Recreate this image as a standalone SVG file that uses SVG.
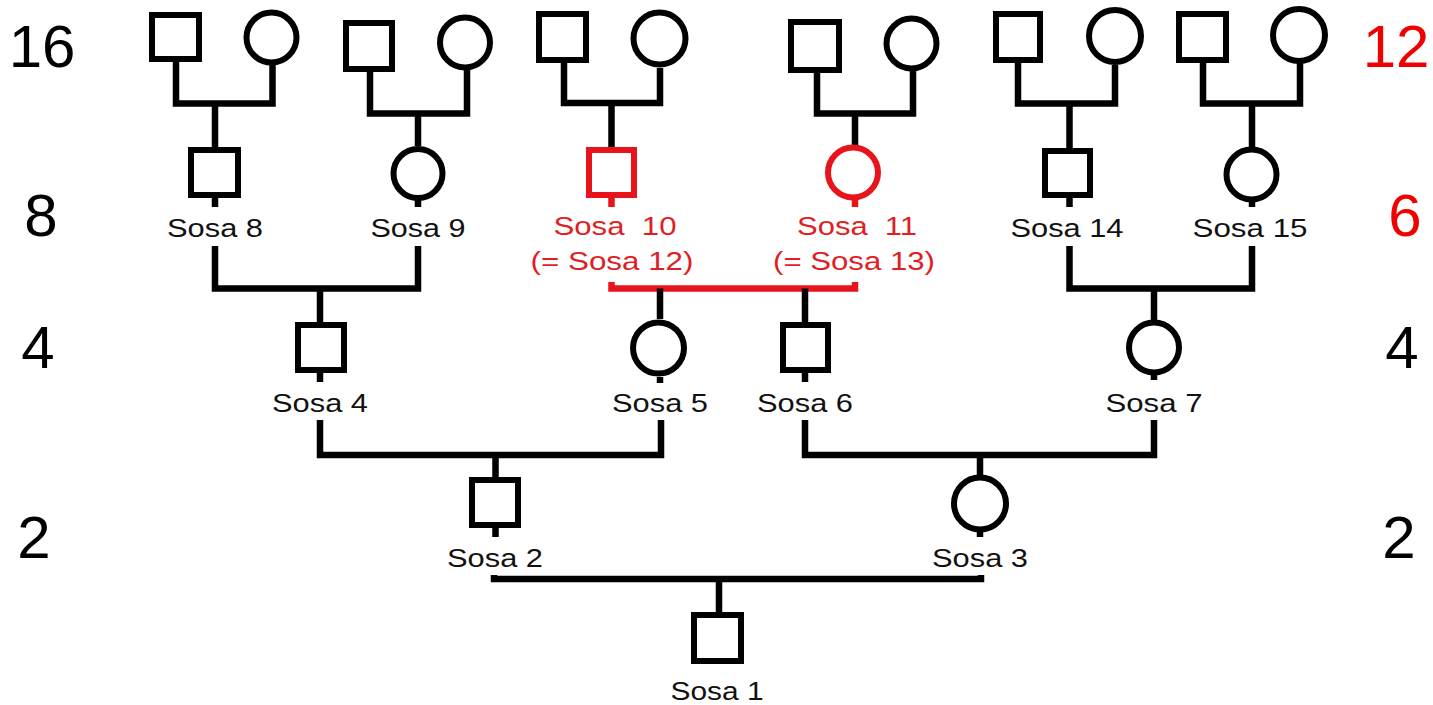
<svg xmlns="http://www.w3.org/2000/svg" width="1433" height="705" viewBox="0 0 1433 705">
<style>
.m{fill:none;stroke:#000;stroke-width:6}
.f{fill:none;stroke:#000;stroke-width:6}
.r{stroke:#e8141c}
.ln{fill:none;stroke:#000;stroke-width:6.5;stroke-linejoin:miter}
.lr{fill:none;stroke:#e8141c;stroke-width:6.5}
.t{font-family:"Liberation Sans",Arial,sans-serif;font-size:26px;fill:#111;text-anchor:middle}
.tr{fill:#e01e24}
.g{font-family:"Liberation Sans",Arial,sans-serif;font-size:60px;fill:#000;text-anchor:middle}
.gr{fill:#f00000}
</style>
<rect width="1433" height="705" fill="#fff"/>
<g id="generation-labels">
<text class="g" x="42" y="67">16</text>
<text class="g" x="41" y="236">8</text>
<text class="g" x="38" y="368">4</text>
<text class="g" x="34" y="558">2</text>
<text class="g gr" x="1396" y="67">12</text>
<text class="g gr" x="1405" y="236">6</text>
<text class="g" x="1402" y="368">4</text>
<text class="g" x="1399" y="558">2</text>
</g>
<g id="connectors">
<path class="ln" d="M176,62V103.5H272.5V65M215,103.5V147"/>
<path class="ln" d="M370,72V113.5H467V70M418,113.5V146"/>
<path class="ln" d="M564,63V103H660V68M611.5,103V147"/>
<path class="ln" d="M817,73V113.5H913V70M855,113.5V146"/>
<path class="ln" d="M1018,63V103.5H1115V65M1069.5,103.5V148"/>
<path class="ln" d="M1203,63V103.5H1300V63M1252,103.5V147"/>
<path class="ln" d="M215,198V207M215,246V288.5H418V246M418,200V207M320,288.5V322"/>
<path class="lr" d="M611.5,198V207M855,200V207M611.5,282V288.5H855V282"/>
<path class="ln" d="M660,288.5V319M805,288.5V322"/>
<path class="ln" d="M1069.5,198V207M1069.5,246V288.5H1252V246M1252,202V207M1154,288.5V320"/>
<path class="ln" d="M320,373V382M660,377V383M805,373V382M1154,375V380"/>
<path class="ln" d="M320,420V455H661V420M495.5,455V477"/>
<path class="ln" d="M805,420V455H1154V420M980,455V475"/>
<path class="ln" d="M495.5,528V537M980,532V537"/>
<path class="ln" d="M494,575V579H981V575M719,579V612"/>
</g>
<g id="sosa16"><rect class="m" x="152" y="15" width="47" height="44"/></g>
<g id="sosa17"><circle class="f" cx="271.5" cy="37.5" r="25"/></g>
<g id="sosa18"><rect class="m" x="346" y="23" width="46" height="46"/></g>
<g id="sosa19"><circle class="f" cx="465" cy="42.5" r="25"/></g>
<g id="sosa20"><rect class="m" x="539" y="14" width="47" height="46"/></g>
<g id="sosa21"><circle class="f" cx="659.5" cy="38.5" r="26"/></g>
<g id="sosa22"><rect class="m" x="791" y="22" width="48" height="48"/></g>
<g id="sosa23"><circle class="f" cx="911.5" cy="43.5" r="25"/></g>
<g id="sosa28"><rect class="m" x="996" y="14" width="44" height="46"/></g>
<g id="sosa29"><circle class="f" cx="1115" cy="36" r="26"/></g>
<g id="sosa30"><rect class="m" x="1179" y="14" width="47" height="46"/></g>
<g id="sosa31"><circle class="f" cx="1299" cy="35" r="26"/></g>
<g id="sosa8"><rect class="m" x="191" y="150" width="47" height="45"/><text class="t" x="215" y="237" textLength="96" lengthAdjust="spacingAndGlyphs">Sosa 8</text></g>
<g id="sosa9"><circle class="f" cx="418" cy="173.5" r="24.5"/><text class="t" x="418" y="237" textLength="95" lengthAdjust="spacingAndGlyphs">Sosa 9</text></g>
<g id="sosa10"><rect class="m r" x="589" y="150" width="45" height="45"/><text class="t tr" x="615" y="235" textLength="123" lengthAdjust="spacingAndGlyphs" xml:space="preserve">Sosa  10</text><text class="t tr" x="612" y="270" textLength="163" lengthAdjust="spacingAndGlyphs">(= Sosa 12)</text></g>
<g id="sosa11"><circle class="f r" cx="853" cy="172.5" r="25"/><text class="t tr" x="857" y="235" textLength="120" lengthAdjust="spacingAndGlyphs" xml:space="preserve">Sosa  11</text><text class="t tr" x="854" y="270" textLength="162" lengthAdjust="spacingAndGlyphs">(= Sosa 13)</text></g>
<g id="sosa14"><rect class="m" x="1045" y="151" width="45" height="44"/><text class="t" x="1067" y="237" textLength="113" lengthAdjust="spacingAndGlyphs">Sosa 14</text></g>
<g id="sosa15"><circle class="f" cx="1251.5" cy="174.5" r="25"/><text class="t" x="1250" y="237" textLength="115" lengthAdjust="spacingAndGlyphs">Sosa 15</text></g>
<g id="sosa4"><rect class="m" x="298" y="325" width="46" height="45"/><text class="t" x="320" y="412" textLength="96" lengthAdjust="spacingAndGlyphs">Sosa 4</text></g>
<g id="sosa5"><circle class="f" cx="658.5" cy="348" r="25.5"/><text class="t" x="660" y="412" textLength="96" lengthAdjust="spacingAndGlyphs">Sosa 5</text></g>
<g id="sosa6"><rect class="m" x="783" y="325" width="45" height="45"/><text class="t" x="805" y="412" textLength="96" lengthAdjust="spacingAndGlyphs">Sosa 6</text></g>
<g id="sosa7"><circle class="f" cx="1154" cy="347.5" r="25"/><text class="t" x="1154" y="412" textLength="97" lengthAdjust="spacingAndGlyphs">Sosa 7</text></g>
<g id="sosa2"><rect class="m" x="472" y="480" width="46" height="45"/><text class="t" x="495" y="567" textLength="96" lengthAdjust="spacingAndGlyphs">Sosa 2</text></g>
<g id="sosa3"><circle class="f" cx="980" cy="503.5" r="26"/><text class="t" x="980" y="567" textLength="96" lengthAdjust="spacingAndGlyphs">Sosa 3</text></g>
<g id="sosa1"><rect class="m" x="694" y="615" width="47" height="46"/><text class="t" x="717" y="700" textLength="93" lengthAdjust="spacingAndGlyphs">Sosa 1</text></g>
</svg>
